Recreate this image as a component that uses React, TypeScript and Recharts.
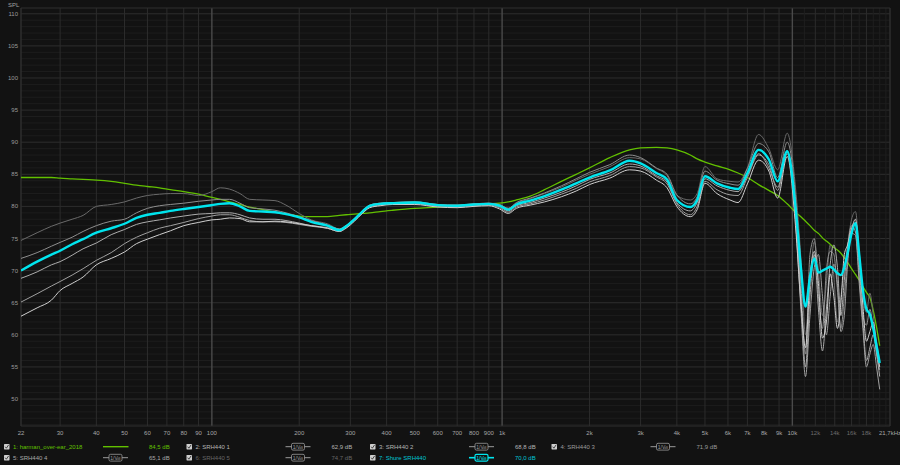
import React from "react";
import { LineChart, Line, XAxis, YAxis, ReferenceLine } from "recharts";

// frequency points (Hz)
const freqs = [
  22, 25, 28, 30, 33, 36, 40, 45, 50, 55,
  60, 66, 72, 80, 90, 100, 107, 115, 125, 135,
  150, 165, 180, 200, 220, 250, 275, 290, 310, 330,
  350, 380, 420, 500, 600, 700, 800, 900, 980, 1050,
  1120, 1250, 1400, 1600, 1800,
  2000, 2350, 2750, 3000, 3400, 3700, 4000, 4450, 4700, 5000,
  5500, 6100, 6500, 7000, 7650, 8300, 8900, 9600, 10250, 10700,
  11100, 11500, 11900, 12300, 12700, 13100, 13500, 13900, 14300, 14700,
  15100, 15500, 16000, 16500, 17000, 17500, 18000, 18500, 19000, 19500,
  20000,
];

const harman = [
  84.5, 84.5, 84.5, 84.4, 84.3, 84.2, 84.1, 83.9, 83.6, 83.3,
  83.1, 82.9, 82.6, 82.3, 81.9, 81.4, 81.1, 80.7, 80.3, 79.9,
  79.5, 79.1, 78.8, 78.5, 78.4, 78.4, 78.6, 78.7, 78.8, 78.9,
  79.0, 79.2, 79.4, 79.7, 79.9, 80.1, 80.3, 80.4, 80.5, 80.7,
  81.0, 81.6, 82.6, 83.9, 85.0,
  86.0, 87.6, 88.8, 89.1, 89.2, 89.1, 88.8, 88.0, 87.4, 86.9,
  86.3, 85.7, 85.2, 84.5, 83.4, 82.5, 81.7, 80.4, 79.1, 78.4,
  77.7, 77.0, 76.3, 75.8, 75.1, 74.6, 74.1, 73.6, 73.2, 72.7,
  72.0, 71.3, 70.3, 69.4, 68.5, 67.5, 66.6, 65.8, 63.8, 61.2,
  58.3,
];

const srh1 = [
  62.9, 64.2, 65.4, 66.9, 68.0, 69.0, 70.9, 71.9, 72.9, 74.2,
  74.9, 75.6, 76.2, 77.0, 77.5, 77.9, 78.0, 78.2, 78.1, 77.6,
  77.6, 77.7, 77.6, 77.3, 77.0, 76.6, 76.1, 76.6, 77.7, 78.9,
  79.8, 80.1, 80.3, 80.3, 79.9, 79.8, 80.0, 80.1, 79.6, 78.9,
  79.7, 80.2, 80.7, 81.5, 82.4,
  83.4, 84.4, 85.7, 85.5, 84.1, 82.9, 80.0, 78.4, 79.5, 83.6,
  82.0, 81.0, 80.6, 83.5, 87.2, 85.5, 81.3, 87.8, 77.0, 65.0,
  58.0, 69.0, 73.0, 68.0, 59.5, 62.0, 69.5, 66.0, 61.0, 65.0,
  72.5, 74.0, 76.5, 78.0, 72.0, 64.5, 59.0, 60.5, 62.0, 58.0,
  55.0,
];

const srh2 = [
  68.8, 69.8, 70.9, 71.4, 72.4, 73.4, 74.3, 75.6, 76.4, 77.2,
  77.6, 77.9, 78.2, 78.5, 78.8, 78.9, 79.0, 79.0, 78.7, 78.2,
  78.0, 78.0, 77.8, 77.4, 77.0, 76.7, 76.2, 76.8, 77.9, 79.1,
  80.0, 80.3, 80.4, 80.5, 80.1, 80.0, 80.2, 80.3, 80.0, 79.3,
  80.1, 80.6, 81.3, 82.2, 83.2,
  84.2, 85.2, 86.6, 86.3, 84.8, 83.8, 80.6, 79.3, 80.6, 84.3,
  83.2, 82.5, 82.3, 84.8, 88.2, 86.0, 83.0, 88.2, 79.5, 66.0,
  55.0, 66.0, 72.5, 64.0, 57.5, 64.0, 71.0, 74.0, 70.5, 63.0,
  68.5, 73.5, 77.0, 76.0, 69.0, 62.0, 56.0, 58.0, 60.0, 57.0,
  53.5,
];

const srh3 = [
  71.9, 72.8, 73.8, 74.4, 75.2, 76.1, 77.0, 77.7, 78.0, 79.0,
  79.7, 80.1, 80.3, 80.5, 80.8, 81.0, 81.1, 81.1, 80.5, 79.8,
  79.6, 79.4, 79.0, 78.4, 77.8, 77.1, 76.5, 77.0, 78.1, 79.3,
  80.2, 80.5, 80.6, 80.7, 80.3, 80.2, 80.4, 80.5, 80.3, 79.7,
  80.6, 81.3, 82.1, 83.2, 84.3,
  85.3, 86.5, 88.0, 87.6, 86.0, 85.0, 81.8, 80.4, 81.5, 85.5,
  84.1, 83.5, 83.3, 85.9, 89.8, 88.5, 84.5, 90.0, 81.5, 68.0,
  57.0, 72.5, 75.0, 66.0, 61.0, 70.0, 73.0, 72.5, 67.0, 61.0,
  66.0, 72.0, 76.5, 77.5, 71.0, 63.0, 61.5, 64.0, 61.0, 57.5,
  54.5,
];

const srh4 = [
  65.1, 66.4, 67.6, 68.3, 69.3, 70.3, 71.6, 72.8, 74.2, 75.2,
  75.9, 76.6, 77.0, 77.5, 78.1, 78.5, 78.7, 78.7, 78.3, 77.8,
  77.6, 77.6, 77.5, 77.2, 76.9, 76.6, 76.1, 76.7, 77.8, 79.0,
  79.9, 80.2, 80.4, 80.4, 80.0, 79.9, 80.1, 80.2, 79.8, 79.1,
  79.9, 80.4, 81.0, 81.9, 82.8,
  83.8, 84.8, 86.2, 86.0, 84.6, 83.5, 80.4, 78.7, 80.0, 83.9,
  82.6, 81.8, 81.7, 84.5, 88.0, 86.5, 82.5, 88.5, 78.0, 64.0,
  53.5, 63.0, 70.5, 72.5, 66.0, 60.0, 66.0, 71.0, 68.0, 60.5,
  63.0, 71.0, 75.8, 75.5, 68.0, 61.0, 55.0, 57.0, 58.5, 55.0,
  51.5,
];

const srh5 = [
  74.7, 75.9, 76.9, 77.4, 78.0, 78.6, 80.0, 80.3, 80.7, 81.3,
  81.7, 81.9, 82.0, 82.0, 81.7, 82.3, 82.9, 82.7, 82.0, 81.1,
  81.0, 80.9, 80.2, 78.9, 77.9, 77.3, 76.5, 77.0, 78.1, 79.3,
  80.2, 80.5, 80.6, 80.7, 80.3, 80.2, 80.4, 80.5, 80.2, 79.7,
  80.5, 81.2, 82.0, 83.0, 84.1,
  85.0, 86.2, 87.6, 87.4, 85.9, 84.8, 81.7, 81.0, 82.0, 86.2,
  84.3, 83.9, 83.8, 86.0, 91.2, 89.0, 85.7, 91.4, 83.0, 72.0,
  60.0, 68.0, 74.5, 70.0, 63.0, 68.0, 74.0, 69.0, 62.0, 66.0,
  70.0, 74.0, 78.0, 79.2, 73.0, 66.0, 63.5, 66.5, 63.0, 59.0,
  56.0,
];

const shureAvg = [
  70.0, 71.4, 72.5, 73.1, 74.1, 74.9, 75.9, 76.6, 77.3, 78.2,
  78.7, 79.0, 79.3, 79.6, 79.9, 80.2, 80.4, 80.5, 80.0, 79.3,
  79.2, 79.1, 78.8, 78.3, 77.6, 77.0, 76.3, 76.9, 78.0, 79.2,
  80.1, 80.4, 80.5, 80.6, 80.2, 80.1, 80.3, 80.4, 80.1, 79.5,
  80.3, 80.9, 81.6, 82.6, 83.6,
  84.5, 85.6, 87.1, 86.7, 85.2, 84.2, 81.0, 79.9, 81.0, 84.7,
  83.6, 82.9, 82.7, 85.2, 88.8, 87.3, 83.9, 88.6, 80.0, 70.5,
  64.4, 69.0, 71.9, 69.7, 70.0, 70.3, 70.6, 70.2, 69.6, 69.3,
  70.5, 72.7, 75.8, 77.4, 72.5, 67.0, 64.0, 63.2, 61.0, 58.3,
  55.6,
];

const xTicks = [
  22, 30, 40, 50, 60, 70, 80, 90, 100, 200, 300, 400, 500, 600, 700, 800, 900,
  1000, 2000, 3000, 4000, 5000, 6000, 7000, 8000, 9000, 10000,
  12000, 14000, 16000, 18000, 21700,
];
const xMinor = [11000, 13000, 15000, 17000, 19000, 20000, 21000];
const xMajor = [100, 1000, 10000];
const yTicks = [50, 55, 60, 65, 70, 75, 80, 85, 90, 95, 100, 105, 110];
const yMinor = Array.from({ length: 65 }, (_, i) => 46 + i).filter((v) => v % 5 !== 0);

const legendNames = [
  "1: harman_over-ear_2018",
  "2: SRH440 1",
  "3: SRH440 2",
  "4: SRH440 3",
  "5: SRH440 4",
  "6: SRH440 5",
  "7: Shure SRH440",
];
const legendLevels = [84.5, 62.9, 68.8, 71.9, 65.1, 74.7, 70.0];

const X_MIN = 22;
const X_MAX = 21700;
const Y_MIN = 45.8;
const Y_MAX = 110.9;

const BG = "#121212";
const FONT = "'Liberation Sans', Arial, sans-serif";
const GREEN = "#62c000";
const CYAN = "#00e5ee";
const legendColors = [GREEN, "#b4b4b4", "#b4b4b4", "#9a9a9a", "#a8a8a8", "#666666", "#00c4d4"];

const data = freqs.map((f, i) => ({
  f,
  harman: harman[i],
  s1: srh1[i],
  s2: srh2[i],
  s3: srh3[i],
  s4: srh4[i],
  s5: srh5[i],
  avg: shureAvg[i],
}));

function fmtFreq(v: number) {
  if (v === 21700) return "21,7kHz";
  if (v >= 1000) return `${v / 1000}k`;
  return String(v);
}

const XTick = (props: any) => {
  const { x, y, payload } = props;
  const v = payload.value;
  const dim = v > 10000 && v < 21000;
  return (
    <text x={x} y={y} dy={5} textAnchor="middle" fontSize={6} fontFamily={FONT} fill={dim ? "#6c6c6c" : "#a6a6a6"}>
      {fmtFreq(v)}
    </text>
  );
};

const YTick = (props: any) => {
  const { x, y, payload } = props;
  return (
    <text x={x} y={y} dy={2} textAnchor="end" fontSize={6} fontFamily={FONT} fill="#9a9a9a">
      {payload.value}
    </text>
  );
};

function Legend() {
  const colX = [4, 186.5, 370, 551.5];
  const rowY = [446.7, 457.7];
  return (
    <svg width={900} height={465} style={{ position: "absolute", left: 0, top: 0, pointerEvents: "none" }}>
      <text x={8} y={6.5} fontSize={6} fontFamily={FONT} fill="#a0a0a0">SPL</text>
      {legendNames.map((name, i) => {
        const row = i < 4 ? 0 : 1;
        const x = colX[i < 4 ? i : i - 4];
        const cy = rowY[row];
        const c = legendColors[i];
        const ix = x + 99;
        const isAvg = i === 6;
        const lineC = isAvg ? CYAN : "#9a9a9a";
        return (
          <g key={name}>
            <rect x={x} y={cy - 2.8} width={5.5} height={5.5} fill="#cfcfcf" rx={0.6} />
            <polyline points={`${x + 1.2},${cy} ${x + 2.4},${cy + 1.5} ${x + 4.6},${cy - 1.8}`} fill="none" stroke="#222" strokeWidth={0.8} />
            <text x={x + 9} y={cy + 2.1} fontSize={6} fontFamily={FONT} fill={c}>{name}</text>
            {i === 0 ? (
              <line x1={ix} x2={ix + 25.5} y1={cy} y2={cy} stroke={GREEN} strokeWidth={1.4} />
            ) : (
              <g>
                <line x1={ix} x2={ix + 25} y1={cy} y2={cy} stroke={lineC} strokeWidth={isAvg ? 1.6 : 1} />
                <rect x={ix + 6} y={cy - 3.4} width={13} height={6.8} rx={1.5} fill={BG} stroke={lineC} strokeWidth={isAvg ? 1.2 : 0.8} />
                <text x={ix + 11} y={cy + 1.8} fontSize={5} fontFamily={FONT} textAnchor="middle" fill={lineC}>1/V</text>
                <text x={ix + 15.8} y={cy + 2.6} fontSize={2.6} fontFamily={FONT} textAnchor="middle" fill={lineC}>dB</text>
              </g>
            )}
            <text x={x + 145} y={cy + 2.1} fontSize={6} fontFamily={FONT} fill={c}>
              {`${legendLevels[i].toFixed(1).replace(".", ",")} dB`}
            </text>
          </g>
        );
      })}
    </svg>
  );
}

export default function App() {
  return (
    <div style={{ position: "fixed", left: 0, top: 0, width: 900, height: 465, background: BG }}>
      <LineChart width={900} height={465} data={data} margin={{ top: 8, right: 10, bottom: 9, left: 0 }}>
        {yMinor.map((v) => (
          <ReferenceLine key={`ym${v}`} y={v} stroke="#1d1d1d" strokeWidth={1} ifOverflow="visible" />
        ))}
        {yTicks.map((v) => (
          <ReferenceLine key={`yM${v}`} y={v} stroke="#2d2d2d" strokeWidth={1} ifOverflow="visible" />
        ))}
        {xMinor.map((v) => (
          <ReferenceLine key={`xm${v}`} x={v} stroke="#1f1f1f" strokeWidth={1} ifOverflow="visible" />
        ))}
        {xTicks.filter((v) => !xMajor.includes(v)).map((v) => (
          <ReferenceLine key={`xt${v}`} x={v} stroke="#2c2c2c" strokeWidth={1} ifOverflow="visible" />
        ))}
        {xMajor.map((v) => (
          <ReferenceLine key={`xM${v}`} x={v} stroke="#4a4a4a" strokeWidth={1.4} ifOverflow="visible" />
        ))}
        <ReferenceLine x={X_MIN} stroke="#2e2e2e" ifOverflow="visible" />
        <ReferenceLine x={X_MAX} stroke="#2e2e2e" ifOverflow="visible" />
        <ReferenceLine y={Y_MIN} stroke="#2e2e2e" ifOverflow="visible" />
        <ReferenceLine y={Y_MAX} stroke="#2e2e2e" ifOverflow="visible" />
        <XAxis
          dataKey="f"
          type="number"
          scale="log"
          domain={[X_MIN, X_MAX]}
          allowDataOverflow
          ticks={xTicks}
          interval={0}
          tick={XTick}
          height={30}
          tickSize={0}
          tickMargin={4}
          axisLine={false}
        />
        <YAxis
          type="number"
          domain={[Y_MIN, Y_MAX]}
          allowDataOverflow
          ticks={yTicks}
          interval={0}
          tick={YTick}
          width={21}
          tickSize={0}
          tickMargin={3}
          axisLine={false}
        />
        <Line dataKey="harman" type="monotone" stroke={GREEN} strokeWidth={1.3} dot={false} isAnimationActive={false} />
        <Line dataKey="s5" type="monotone" stroke="#6a6a6a" strokeWidth={1} dot={false} isAnimationActive={false} />
        <Line dataKey="s3" type="monotone" stroke="#8e8e8e" strokeWidth={1} dot={false} isAnimationActive={false} />
        <Line dataKey="s2" type="monotone" stroke="#adadad" strokeWidth={1} dot={false} isAnimationActive={false} />
        <Line dataKey="s4" type="monotone" stroke="#a0a0a0" strokeWidth={1} dot={false} isAnimationActive={false} />
        <Line dataKey="s1" type="monotone" stroke="#cfcfcf" strokeWidth={1} dot={false} isAnimationActive={false} />
        <Line dataKey="avg" type="monotone" stroke={CYAN} strokeWidth={2.4} dot={false} isAnimationActive={false} />
      </LineChart>
      <Legend />
    </div>
  );
}
